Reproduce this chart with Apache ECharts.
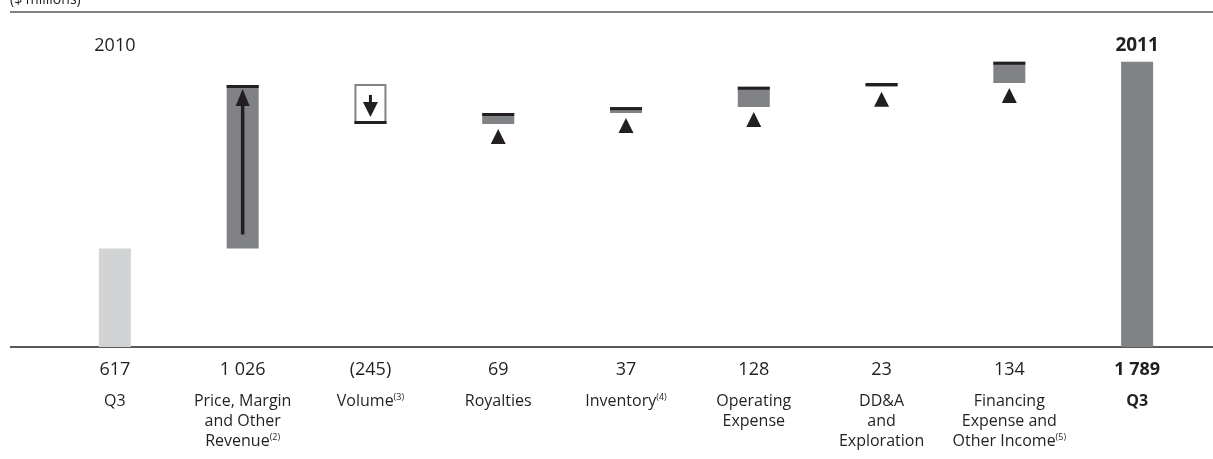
<!DOCTYPE html>
<html><head><meta charset="utf-8">
<script src="https://cdn.jsdelivr.net/npm/echarts@6/dist/echarts.min.js"></script>
<style>html,body{margin:0;padding:0;background:#fff}#c{width:1213px;height:459px}</style>
</head><body><div id="c"></div>
<script>
const categories = ['Q3', 'Price, Margin\nand Other\nRevenue', 'Volume', 'Royalties', 'Inventory', 'Operating\nExpense', 'DD&A\nand\nExploration', 'Financing\nExpense and\nOther Income', 'Q3'];
const footnotes = ['', '(2)', '(3)', '', '(4)', '', '', '(5)', ''];
const values = [617, 1026, -245, 69, 37, 128, 23, 134, 1789];
const kinds = ['start', 'upArrow', 'down', 'up', 'up', 'up', 'up', 'up', 'end'];
const yearLabels = ['2010', '2011'];
const unitLabel = '($ millions)';

const ranges = [];
let run = 0;
values.forEach((v, i) => {
  if (kinds[i] === 'start' || kinds[i] === 'end') { ranges.push([i, 0, v]); run = v; }
  else { const a = run, b = run + v; ranges.push([i, Math.min(a, b), Math.max(a, b)]); run = b; }
});

const fmt = n => { const s = Math.abs(n).toString().replace(/\B(?=(\d{3})+(?!\d))/g, ' '); return n < 0 ? '(' + s + ')' : s; };
const FONT = '"Open Sans", "Noto Sans", sans-serif';
const DARK = '#231f20', GRAY = '#808285', LIGHT = '#d1d3d4';

const chart = echarts.init(document.getElementById('c'), null, { renderer: 'canvas' });
chart.setOption({
  animation: false,
  backgroundColor: '#fff',
  grid: { left: 51, right: 12, top: 28, bottom: 112 },
  xAxis: [
    { type: 'category', data: categories, position: 'bottom',
      axisLine: { show: false }, axisTick: { show: false },
      axisLabel: { interval: 0, margin: 13, color: DARK, fontFamily: FONT, fontSize: 18, lineHeight: 20,
        formatter: (v, idx) => idx === values.length - 1 ? '{b|' + fmt(values[idx]) + '}' : '{n|' + fmt(values[idx]) + '}',
        rich: { n: { fontSize: 18, fontFamily: FONT, color: DARK, lineHeight: 20 }, b: { fontSize: 18, fontWeight: 'bold', fontFamily: FONT, color: DARK, lineHeight: 20 } } } },
    { type: 'category', data: categories, position: 'bottom',
      axisLine: { show: false }, axisTick: { show: false },
      axisLabel: { interval: 0, margin: 44, color: DARK, fontFamily: FONT, fontSize: 16, lineHeight: 20,
        formatter: (v, idx) => {
          const lines = categories[idx].split('\n');
          const st = idx === values.length - 1 ? 'cb' : 'c';
          return lines.map((l, k) => '{' + st + '|' + l + '}' + (k === lines.length - 1 && footnotes[idx] ? '{s|' + footnotes[idx] + '}' : '')).join('\n');
        },
        rich: {
          c: { fontSize: 16, fontFamily: FONT, color: DARK, lineHeight: 20 },
          cb: { fontSize: 16, fontWeight: 'bold', fontFamily: FONT, color: DARK, lineHeight: 20 },
          s: { fontSize: 9, fontFamily: FONT, color: DARK, lineHeight: 20, verticalAlign: 'top', padding: [2, 0, 0, 0] }
        } } },
    { type: 'category', data: categories, position: 'top',
      axisLine: { show: false }, axisTick: { show: false },
      axisLabel: { interval: 0, margin: -27, color: DARK, fontFamily: FONT, fontSize: 19,
        formatter: (v, idx) => idx === 0 ? '{a|' + yearLabels[0] + '}' : (idx === values.length - 1 ? '{b|' + yearLabels[1] + '}' : ''),
        rich: { a: { fontSize: 18, fontFamily: FONT, color: DARK }, b: { fontSize: 19, fontWeight: 'bold', fontFamily: FONT, color: DARK } } } }
  ],
  yAxis: { type: 'value', min: 0, max: 2000, show: false },
  graphic: [
    { type: 'line', shape: { x1: 10, y1: 12, x2: 1213, y2: 12 }, style: { stroke: '#58595b', lineWidth: 1.5 } },
    { type: 'line', shape: { x1: 10, y1: 347, x2: 1213, y2: 347 }, style: { stroke: DARK, lineWidth: 1.5 } },
    { type: 'text', x: 10, y: 7, style: { text: unitLabel, font: '14px ' + FONT, fill: DARK, verticalAlign: 'bottom' } }
  ],
  series: [{
    type: 'custom',
    xAxisIndex: 0,
    data: ranges,
    encode: { x: 0, y: [1, 2] },
    clip: false,
    renderItem: (params, api) => {
      const i = api.value(0);
      const pLo = api.coord([i, api.value(1)]), pHi = api.coord([i, api.value(2)]);
      const x = pLo[0], yLo = pLo[1], yHi = pHi[1];
      const w = 32, L = x - w / 2;
      const kind = kinds[i];
      const ch = [];
      if (kind === 'start' || kind === 'end') {
        ch.push({ type: 'rect', shape: { x: L, y: yHi, width: w, height: yLo - yHi }, style: { fill: kind === 'start' ? LIGHT : GRAY } });
      } else if (kind === 'down') {
        ch.push({ type: 'rect', shape: { x: L + 1, y: yHi, width: w - 2, height: yLo - yHi - 1 }, style: { fill: '#fff', stroke: GRAY, lineWidth: 2 } });
        ch.push({ type: 'rect', shape: { x: L, y: yLo - 3, width: w, height: 3 }, style: { fill: DARK } });
        ch.push({ type: 'rect', shape: { x: x - 1.5, y: yHi + 10, width: 3, height: 9 }, style: { fill: DARK } });
        ch.push({ type: 'polygon', shape: { points: [[x - 7.5, yHi + 17], [x + 7.5, yHi + 17], [x, yHi + 32]] }, style: { fill: DARK } });
      } else {
        ch.push({ type: 'rect', shape: { x: L, y: yHi, width: w, height: yLo - yHi }, style: { fill: GRAY } });
        ch.push({ type: 'rect', shape: { x: L, y: yHi, width: w, height: 3 }, style: { fill: DARK } });
        if (kind === 'upArrow') {
          ch.push({ type: 'rect', shape: { x: x - 1.75, y: yHi + 18, width: 3.5, height: (yLo - 14) - (yHi + 18) }, style: { fill: DARK } });
          ch.push({ type: 'polygon', shape: { points: [[x - 7, yHi + 21], [x + 7, yHi + 21], [x, yHi + 4]] }, style: { fill: DARK } });
        } else {
          ch.push({ type: 'polygon', shape: { points: [[x - 7.5, yLo + 20], [x + 7.5, yLo + 20], [x, yLo + 5]] }, style: { fill: DARK } });
        }
      }
      return { type: 'group', children: ch };
    }
  }]
});
</script>
</body></html>
